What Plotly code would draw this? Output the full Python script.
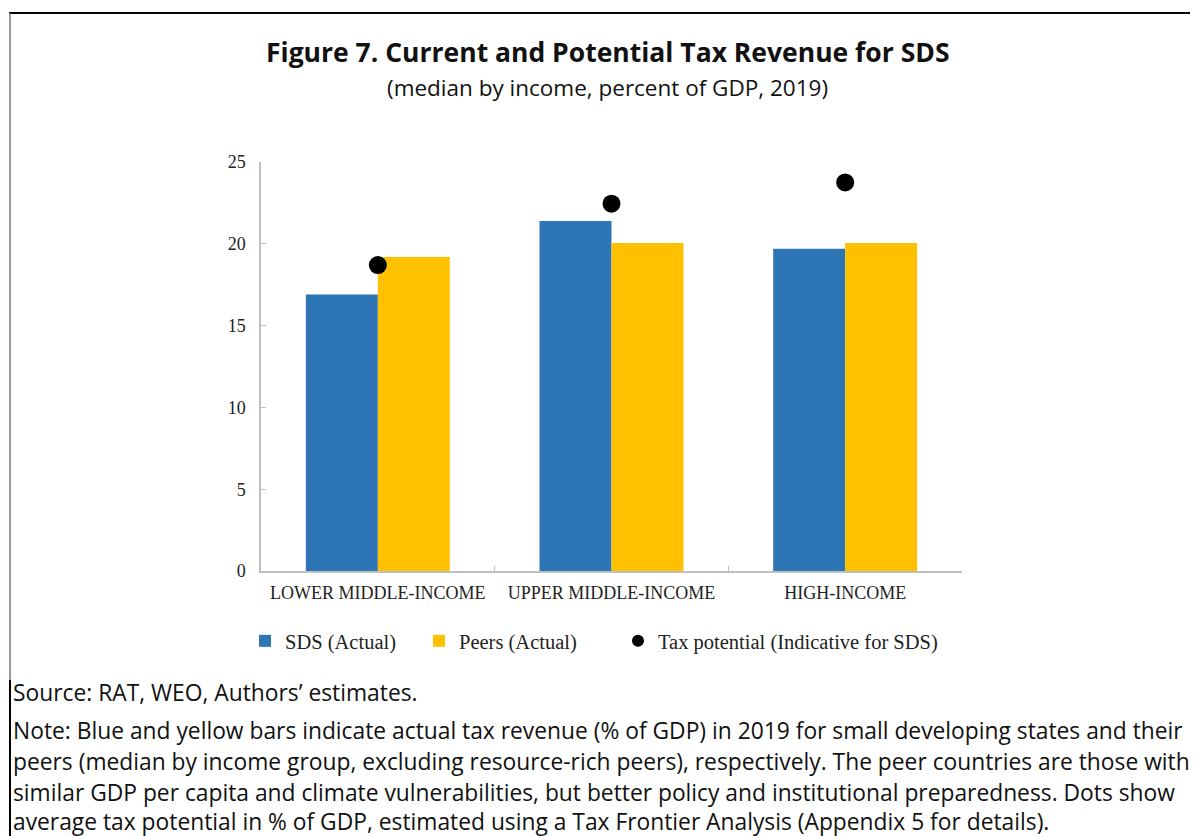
import plotly.graph_objects as go

categories = ["LOWER MIDDLE-INCOME", "UPPER MIDDLE-INCOME", "HIGH-INCOME"]
sds_actual = [16.9, 21.4, 19.7]
peers_actual = [19.2, 20.05, 20.05]
tax_potential = [18.7, 22.45, 23.75]

OFF = 8  # page body margin
W, H = 1198 - OFF, 836 - OFF
# plot area in reference-screen pixels
RL, RR, RT, RB = 261, 962, 162, 571
L, R, T, B = RL - OFF, RR - OFF, RT - OFF, RB - OFF


def px(x):
    return (x - RL) / (RR - RL)


def py(y):
    return (RB - y) / (RB - RT)


SERIF = "Liberation Serif, Times New Roman, serif"
SANS = "Open Sans, Noto Sans, sans-serif"

fig = go.Figure()
fig.add_trace(go.Bar(x=categories, y=sds_actual, name="SDS (Actual)",
                     marker=dict(color="#2E75B6", line=dict(width=0)), legend="legend"))
fig.add_trace(go.Bar(x=categories, y=peers_actual, name="Peers (Actual)",
                     marker=dict(color="#FFC000", line=dict(width=0)), legend="legend2"))
fig.add_trace(go.Scatter(x=categories, y=tax_potential, mode="markers",
                         name="Tax potential (Indicative for SDS)",
                         marker=dict(color="black", size=18), legend="legend3"))

leg_common = dict(orientation="h", yanchor="middle", xanchor="left",
                  font=dict(family=SERIF, size=20.5, color="#222"),
                  bgcolor="rgba(0,0,0,0)", itemsizing="constant")

annotations = [
    dict(text="<b>Figure 7. Current and Potential Tax Revenue for SDS</b>",
         x=px(608), y=py(52), font=dict(family=SANS, size=26.5, color="#111")),
    dict(text="(median by income, percent of GDP, 2019)",
         x=px(607), y=py(88), font=dict(family=SANS, size=22.5, color="#111")),
]
note_lines = [
    ("Source: RAT, WEO, Authors\u2019 estimates.", 692),
    ("Note: Blue and yellow bars indicate actual tax revenue (% of GDP) in 2019 for small developing states and their", 730),
    ("peers (median by income group, excluding resource-rich peers), respectively. The peer countries are those with", 761),
    ("similar GDP per capita and climate vulnerabilities, but better policy and institutional preparedness. Dots show", 792),
    ("average tax potential in % of GDP, estimated using a Tax Frontier Analysis (Appendix 5 for details).", 821),
]
for txt, yy in note_lines:
    annotations.append(dict(text=txt, x=px(11), y=py(yy), xanchor="left",
                            font=dict(family=SANS, size=22.8, color="#111")))
for a in annotations:
    a.update(xref="paper", yref="paper", showarrow=False, yanchor="middle")
    a.setdefault("xanchor", "center")

shapes = [
    dict(type="line", xref="paper", yref="paper", x0=px(9), x1=px(1198), y0=py(13), y1=py(13),
         line=dict(color="black", width=2)),
    dict(type="line", xref="paper", yref="paper", x0=px(10), x1=px(10), y0=py(13), y1=py(680),
         line=dict(color="#777", width=1.5)),
    dict(type="line", xref="paper", yref="paper", x0=px(10), x1=px(10), y0=py(680), y1=py(836),
         line=dict(color="black", width=2)),
]

fig.update_layout(
    width=W, height=H, autosize=False,
    margin=dict(l=L, r=W - R, t=T, b=H - B, pad=0),
    paper_bgcolor="white", plot_bgcolor="white",
    barmode="group", bargap=0.384, bargroupgap=0,
    showlegend=True,
    legend=dict(x=px(245), y=py(641), **leg_common),
    legend2=dict(x=px(419), y=py(641), **leg_common),
    legend3=dict(x=px(618), y=py(641), **leg_common),
    annotations=annotations,
    shapes=shapes,
    xaxis=dict(showline=True, linecolor="#BFBFBF", linewidth=1.5,
               ticks="inside", tickson="boundaries", ticklen=5, tickcolor="#BFBFBF",
               tickfont=dict(family=SERIF, size=18, color="#222"), showgrid=False,
               ticklabelstandoff=5),
    yaxis=dict(range=[0, 25], dtick=5, showline=True, linecolor="#BFBFBF", linewidth=1.5,
               ticks="inside", ticklen=5, tickcolor="#BFBFBF", showgrid=False, zeroline=False,
               tickfont=dict(family=SERIF, size=18, color="#222"), ticklabelstandoff=10),
)

fig.write_html("out.html")
